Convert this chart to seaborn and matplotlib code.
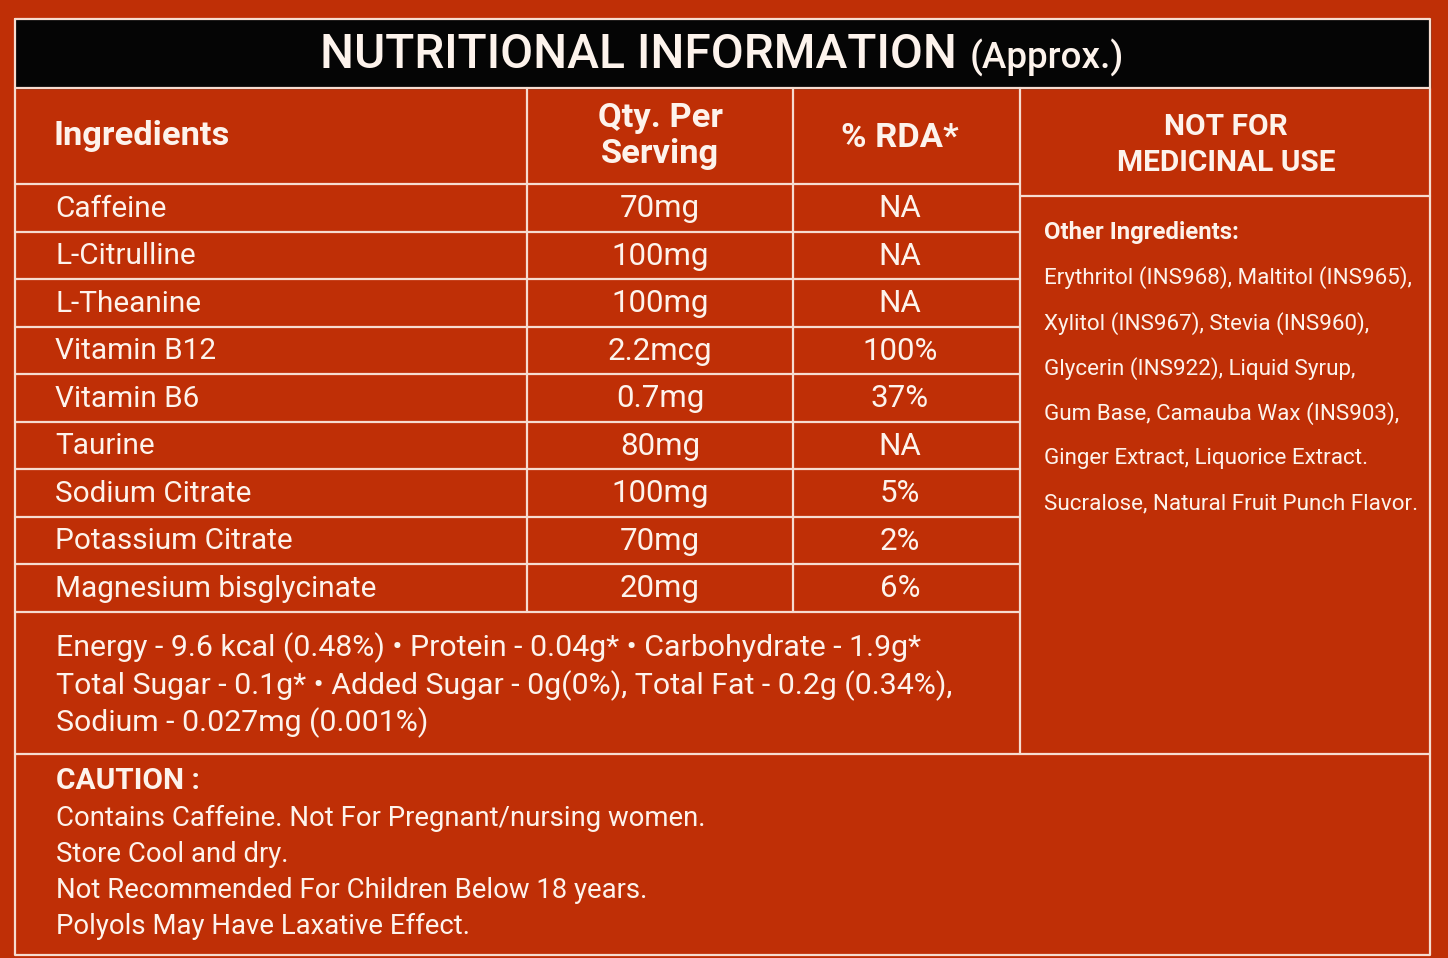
import matplotlib
matplotlib.use("Agg")
import matplotlib.pyplot as plt
import seaborn as sns
from matplotlib.patches import Rectangle

# Label content
ingredients = ["Caffeine", "L-Citrulline", "L-Theanine", "Vitamin B12", "Vitamin B6",
               "Taurine", "Sodium Citrate", "Potassium Citrate", "Magnesium bisglycinate"]
qty = ["70mg", "100mg", "100mg", "2.2mcg", "0.7mg", "80mg", "100mg", "70mg", "20mg"]
rda = ["NA", "NA", "NA", "100%", "37%", "NA", "5%", "2%", "6%"]

other_ingredients = [
    "Erythritol (INS968), Maltitol (INS965),",
    "Xylitol (INS967), Stevia (INS960),",
    "Glycerin (INS922), Liquid Syrup,",
    "Gum Base, Camauba Wax (INS903),",
    "Ginger Extract, Liquorice Extract.",
    "Sucralose, Natural Fruit Punch Flavor.",
]
nutrition_lines = [
    "Energy - 9.6 kcal (0.48%) \u2022 Protein - 0.04g* \u2022 Carbohydrate - 1.9g*",
    "Total Sugar - 0.1g* \u2022 Added Sugar - 0g(0%), Total Fat - 0.2g (0.34%),",
    "Sodium - 0.027mg (0.001%)",
]
caution_lines = [
    "Contains Caffeine. Not For Pregnant/nursing women.",
    "Store Cool and dry.",
    "Not Recommended For Children Below 18 years.",
    "Polyols May Have Laxative Effect.",
]

sns.set_theme(style="white")
plt.rcParams["font.family"] = ["Roboto", "DejaVu Sans"]

bg = "#bf2f06"
fg = "#fdf3ec"
line_c = "#f6dcd0"
lw = 1.6

fig = plt.figure(figsize=(14.48, 9.58), dpi=100, facecolor=bg)
ax = fig.add_axes([0, 0, 1, 1])
ax.set_facecolor(bg)
ax.set_xlim(0, 1448)
ax.set_ylim(958, 0)
ax.axis("off")

L, R, T, B = 15, 1430, 19, 955
c1, c2, c3 = 527, 793, 1020
head_bot = 88
row_top = 184
row_h = 47.5
rows_bot = row_top + row_h * len(ingredients)
nut_bot = 754

# black title band
ax.add_patch(Rectangle((L, T), R - L, head_bot - T, color="#050505", zorder=1))
ax.text(320, 55, "NUTRITIONAL INFORMATION", color=fg, fontsize=34.5, fontweight="medium",
        ha="left", va="center", zorder=3)
ax.text(970, 58, "(Approx.)", color=fg, fontsize=26.5, fontweight="medium",
        ha="left", va="center", zorder=3)

# frame lines
ax.plot([L, R, R, L, L], [T, T, B, B, T], color=line_c, lw=lw, zorder=2)
ax.plot([L, R], [head_bot, head_bot], color=line_c, lw=lw, zorder=2)
ax.plot([L, R], [nut_bot, nut_bot], color=line_c, lw=lw, zorder=2)
ax.plot([c3, c3], [head_bot, nut_bot], color=line_c, lw=lw, zorder=2)
ax.plot([c3, R], [196, 196], color=line_c, lw=lw, zorder=2)
for cx in (c1, c2):
    ax.plot([cx, cx], [head_bot, rows_bot], color=line_c, lw=lw, zorder=2)
for i in range(len(ingredients) + 1):
    y = row_top + row_h * i
    ax.plot([L, c3], [y, y], color=line_c, lw=lw, zorder=2)

# header cells
hs = 24.8
ax.text(54, 136, "Ingredients", color=fg, fontsize=hs, fontweight="bold", ha="left", va="center")
ax.text(660, 118, "Qty. Per", color=fg, fontsize=hs, fontweight="bold", ha="center", va="center")
ax.text(660, 154, "Serving", color=fg, fontsize=hs, fontweight="bold", ha="center", va="center")
ax.text(900, 138, "% RDA*", color=fg, fontsize=hs, fontweight="bold", ha="center", va="center")
ax.text(1226, 127, "NOT FOR", color=fg, fontsize=21.5, fontweight="bold", ha="center", va="center")
ax.text(1226, 163, "MEDICINAL USE", color=fg, fontsize=21.5, fontweight="bold", ha="center", va="center")

# table rows
for i, (name, q, r) in enumerate(zip(ingredients, qty, rda)):
    y = row_top + row_h * (i + 0.5) + 1
    ax.text(55, y, name, color=fg, fontsize=21.4, ha="left", va="center")
    ax.text(660, y, q, color=fg, fontsize=22.5, ha="center", va="center")
    ax.text(900, y, r, color=fg, fontsize=22.5, ha="center", va="center")

# other ingredients (reference uses a condensed face; fit to the same width)
ax.text(1044, 232, "Other Ingredients:", color=fg, fontsize=17.2, fontweight="bold",
        ha="left", va="center")
for i, line in enumerate(other_ingredients):
    ax.text(1044, 278 + 45.2 * i, line, color=fg, fontsize=16.1, ha="left", va="center")

# nutrition summary
for i, line in enumerate(nutrition_lines):
    ax.text(56, 648 + 37.5 * i, line, color=fg, fontsize=21.8, ha="left", va="center")

# caution
ax.text(56, 781, "CAUTION :", color=fg, fontsize=21.5, fontweight="bold", ha="left", va="center")
for i, line in enumerate(caution_lines):
    ax.text(56, 818 + 36.3 * i, line, color=fg, fontsize=19.8, ha="left", va="center")

fig.savefig("out.png", dpi=100, facecolor=bg)
